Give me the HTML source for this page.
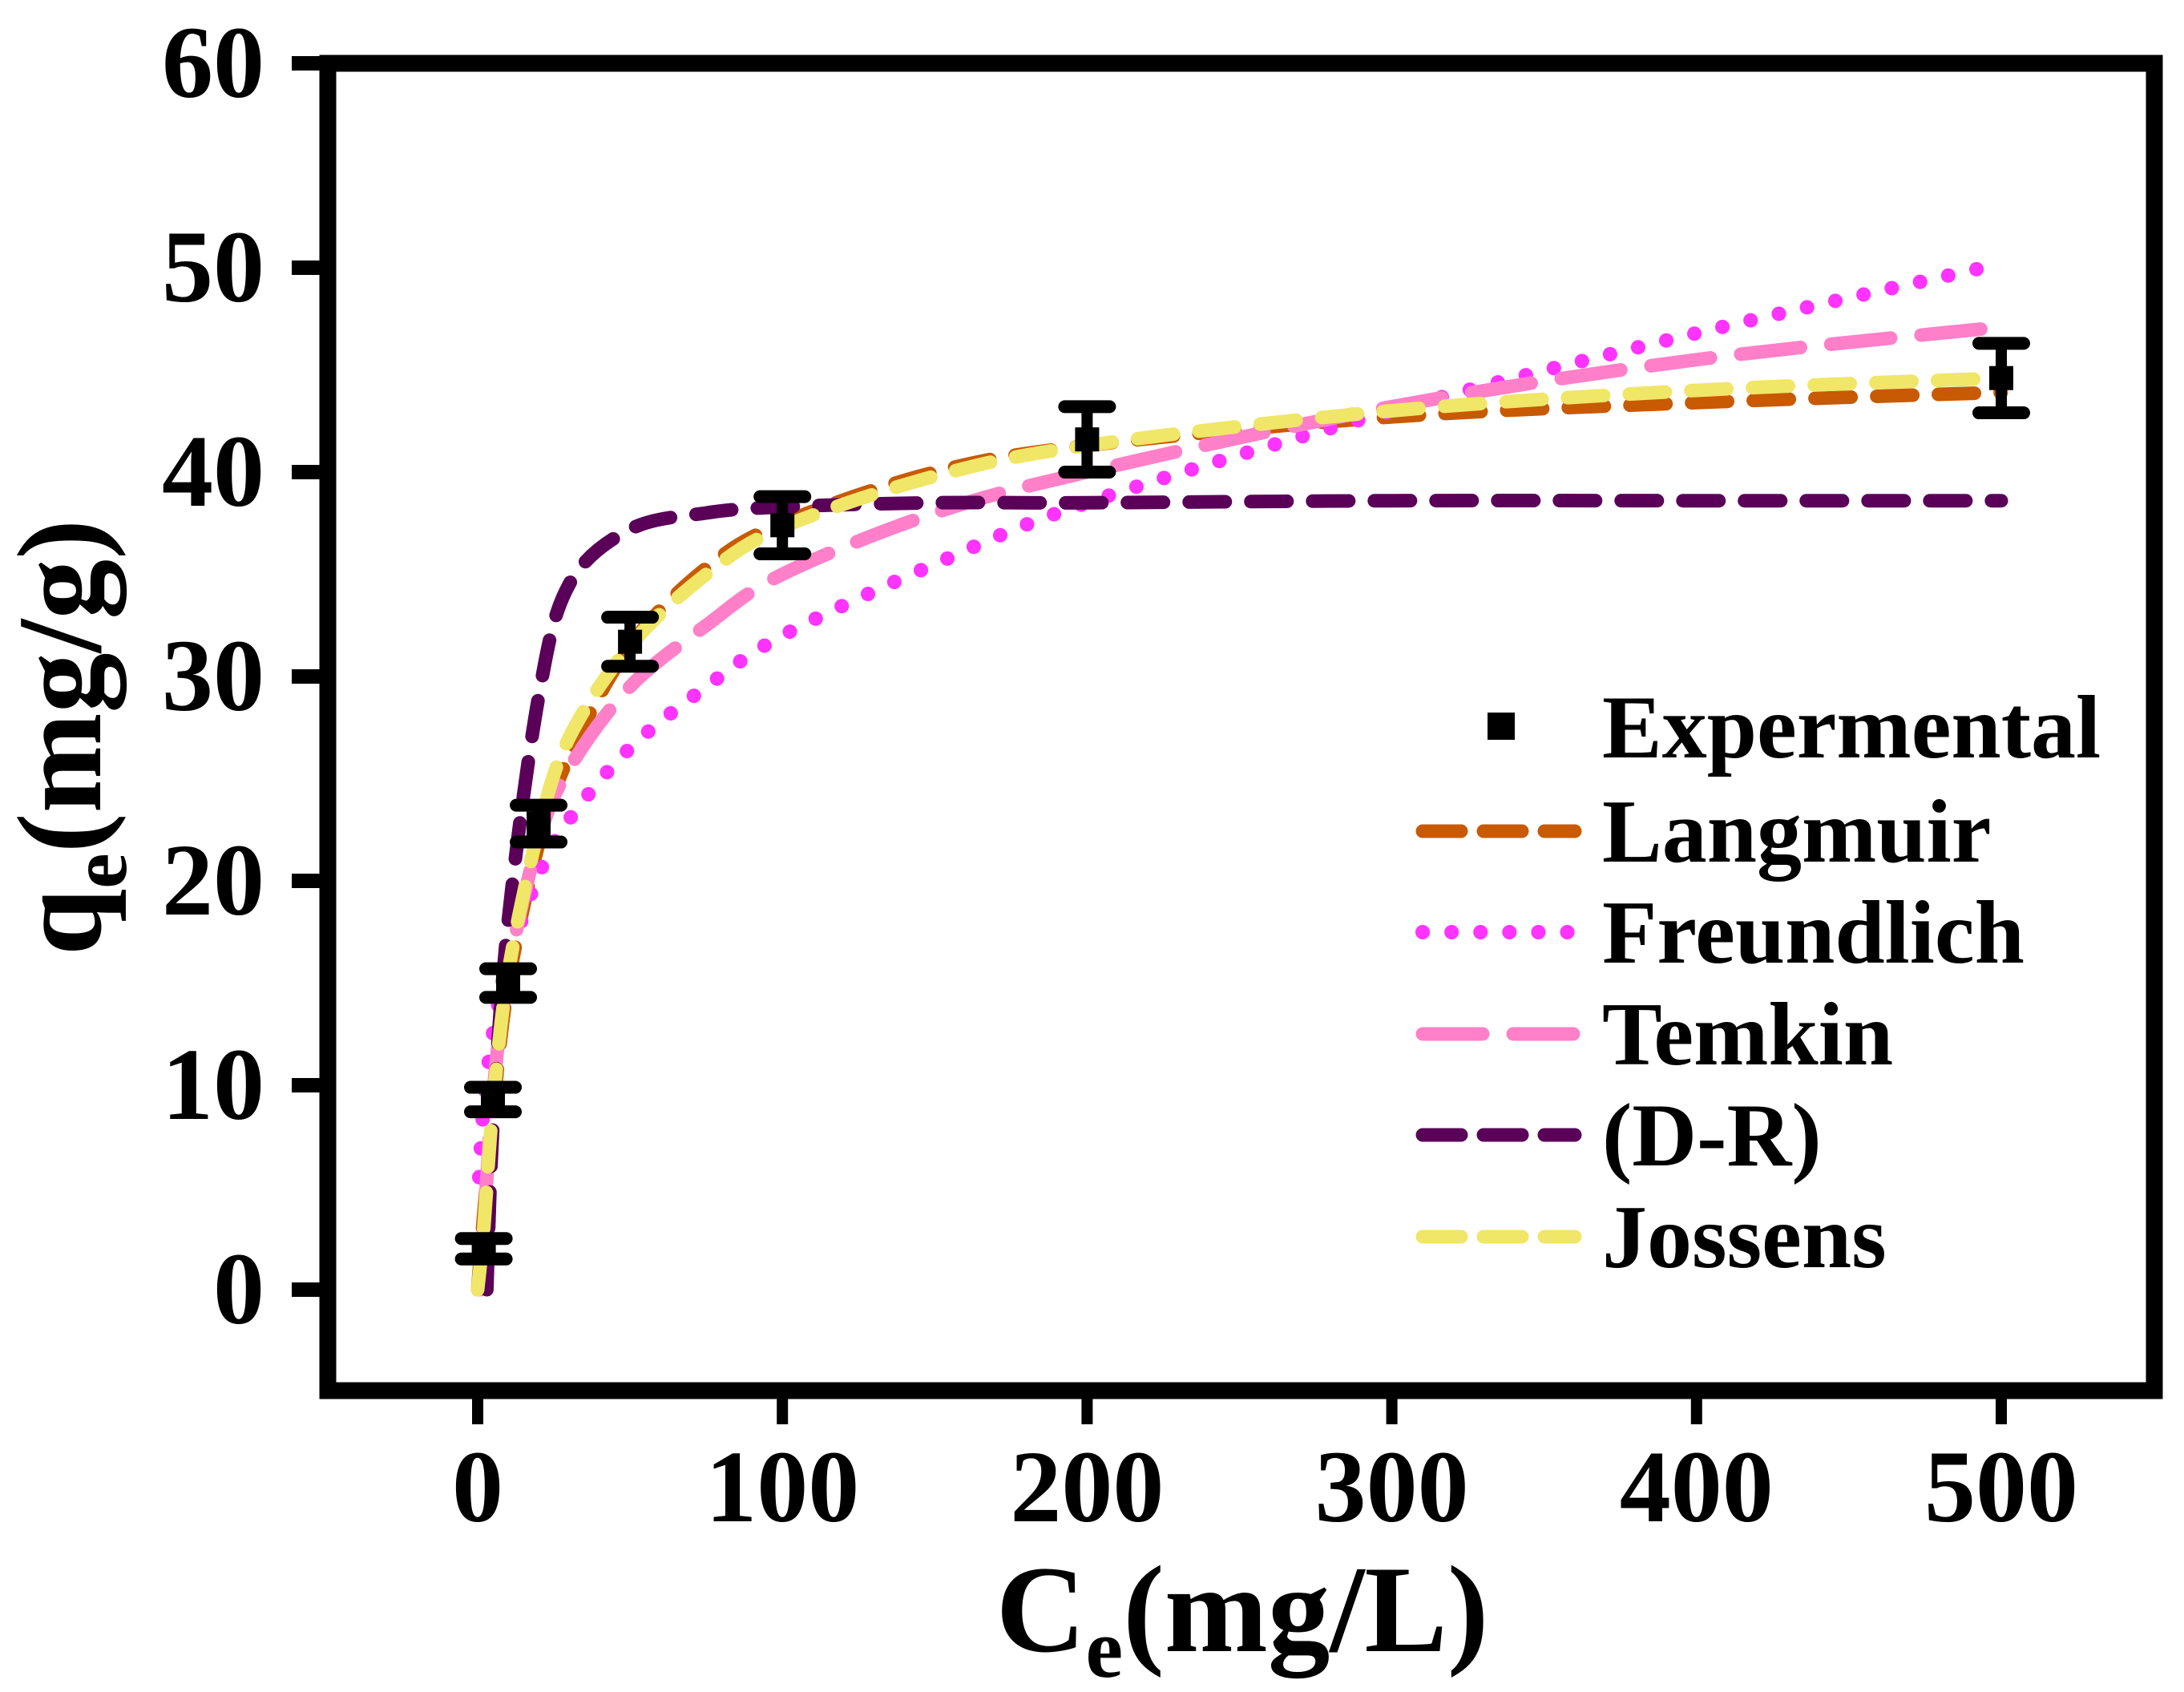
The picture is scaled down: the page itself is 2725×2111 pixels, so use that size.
<!DOCTYPE html>
<html><head><meta charset="utf-8"><style>
html,body{margin:0;padding:0;background:#fff;}
svg{display:block;font-family:"Liberation Serif",serif;font-weight:bold;}
</style></head><body>
<svg id="chart" width="2725" height="2111" viewBox="0 0 2725 2111" xmlns="http://www.w3.org/2000/svg">
<g id="curves"></g>
<rect x="409" y="79" width="2279" height="1656" fill="none" stroke="#000" stroke-width="21"/>
<g id="axes"></g>
<text x="1550" y="2060" font-size="155" text-anchor="middle">C<tspan font-size="105" dy="32">e</tspan><tspan dy="-32">(mg/L)</tspan></text>
<text transform="translate(125,920) rotate(-90)" font-size="150" text-anchor="middle">q<tspan font-size="100" dy="32">e</tspan><tspan dy="-32">(mg/g)</tspan></text>
<g id="legend"></g>
</svg>
<script>
const xTicks=[0,100,200,300,400,500];
const yTicks=[0,10,20,30,40,50,60];
const expX=[2,5,10,20,50,100,200,500];
const expY=[2,9.3,15,22.8,31.7,37.4,41.6,44.6];
const expErr=[0.5,0.6,0.7,0.9,1.2,1.4,1.6,1.7];
const langX=[0,2,5,10,20,30,50,75,100,150,200,300,400,500];
const langY=[0,3.7,8.6,14.9,21.8,26.1,31.5,35.3,37.5,40,41.3,42.7,43.4,43.9];
const freuX=[0.5,2,5,10,20,30,50,75,100,150,200,300,400,500];
const freuY=[5.5,9,12.5,16,20.3,23,26.5,29.5,32,35.5,38.5,43,46.8,50.2];
const temkX=[1,2,5,10,20,30,50,75,100,150,200,300,400,500];
const temkY=[0,3,9.5,15.5,22,25.5,29.5,32.5,35,38,40,43.2,45.5,47.1];
const drX=[3,5,10,20,30,50,75,100,150,200,300,400,500];
const drY=[0,8,18,29,34.5,37.2,38,38.3,38.5,38.5,38.6,38.6,38.6];
const josX=[0,2,5,10,20,30,50,75,100,150,200,300,400,500];
const josY=[0,3,9,15.5,22.5,27,31.5,35,37.3,39.8,41.3,43,44,44.6];
const legendLabels=["Expermental","Langmuir","Freundlich","Temkin","(D-R)","Jossens"];

const NS="http://www.w3.org/2000/svg";
const X0=596,XPER=3.802,Y0=1609,YPER=25.5;
const sx=v=>X0+v*XPER, sy=v=>Y0-v*YPER;
function mk(tag,attrs,parent){const e=document.createElementNS(NS,tag);for(const k in attrs)e.setAttribute(k,attrs[k]);parent.appendChild(e);return e;}
const axes=document.getElementById('axes'),curves=document.getElementById('curves'),legend=document.getElementById('legend');
xTicks.forEach(t=>{
  const l=mk('line',{x1:sx(t),x2:sx(t),y1:1735,y2:1777,stroke:'#000','stroke-width':14},axes);
  
  
  const tx=mk('text',{x:sx(t),y:1898,'font-size':128,'text-anchor':'middle'},axes);tx.textContent=t;
  
  
});
yTicks.forEach(t=>{
  const l=mk('line',{x1:364,x2:409,y1:sy(t),y2:sy(t),stroke:'#000','stroke-width':18},axes);
  
  
  const tx=mk('text',{x:330,y:sy(t)+42,'font-size':128,'text-anchor':'end'},axes);tx.textContent=t;
  
  
});
function pathD(xs,ys){
  const p=xs.map((x,i)=>[sx(x),sy(ys[i])]);
  let d='M'+p[0][0]+','+p[0][1];
  for(let i=0;i<p.length-1;i++){
    const a=p[Math.max(i-1,0)],b=p[i],c=p[i+1],e=p[Math.min(i+2,p.length-1)];
    const c1=[b[0]+(c[0]-a[0])/6,b[1]+(c[1]-a[1])/6],c2=[c[0]-(e[0]-b[0])/6,c[1]-(e[1]-b[1])/6];
    d+=' C'+c1[0]+','+c1[1]+' '+c2[0]+','+c2[1]+' '+c[0]+','+c[1];
  }
  return d;
}
const series=[
  {name:'langmuir-curve',xs:langX,ys:langY,color:'#c85a04',dash:'45 32'},
  {name:'freundlich-curve',xs:freuX,ys:freuY,color:'#ff33ff',dash:'0.1 36'},
  {name:'temkin-curve',xs:temkX,ys:temkY,color:'#ff80c8',dash:'75 38'},
  {name:'dr-curve',xs:drX,ys:drY,color:'#5a0058',dash:'45 32'},
  {name:'jossens-curve',xs:josX,ys:josY,color:'#f0e668',dash:'45 32'}
];
series.forEach(s=>{
  const p=mk('path',{d:pathD(s.xs,s.ys),fill:'none',stroke:s.color,'stroke-width':s.name==='freundlich-curve'?18:17,'stroke-dasharray':s.dash,'stroke-linecap':'round'},curves);
  
  
});
expX.forEach((x,i)=>{
  const g=mk('g',{},curves);
  
  
  const cx=sx(x),yt=sy(expY[i]+expErr[i]),yb=sy(expY[i]-expErr[i]);
  mk('line',{x1:cx,x2:cx,y1:yt,y2:yb,stroke:'#000','stroke-width':14},g);
  mk('line',{x1:cx-28,x2:cx+28,y1:yt,y2:yt,stroke:'#000','stroke-width':16,'stroke-linecap':'round'},g);
  mk('line',{x1:cx-28,x2:cx+28,y1:yb,y2:yb,stroke:'#000','stroke-width':16,'stroke-linecap':'round'},g);
  mk('rect',{x:cx-15,y:sy(expY[i])-15,width:30,height:30,fill:'#000'},g);
});
const legY=[907,1037,1163,1290,1416,1543];
legendLabels.forEach((lab,i)=>{
  const g=mk('g',{},legend);
  
  
  const y=legY[i];
  if(i===0){mk('rect',{x:1856,y:y-18,width:34,height:34,fill:'#000'},g);}
  else{const s=series[i-1];
    mk('line',{x1:1775,x2:1965,y1:y,y2:y,stroke:s.color,'stroke-width':s.name==='freundlich-curve'?18:17,'stroke-dasharray':s.name==='freundlich-curve'?'0.1 36':(s.name==='temkin-curve'?'75 38':'48 28'),'stroke-linecap':'round'},g);}
  const t=mk('text',{x:1999,y:y+38,'font-size':112},g);t.textContent=lab;
});
</script>
</body></html>
